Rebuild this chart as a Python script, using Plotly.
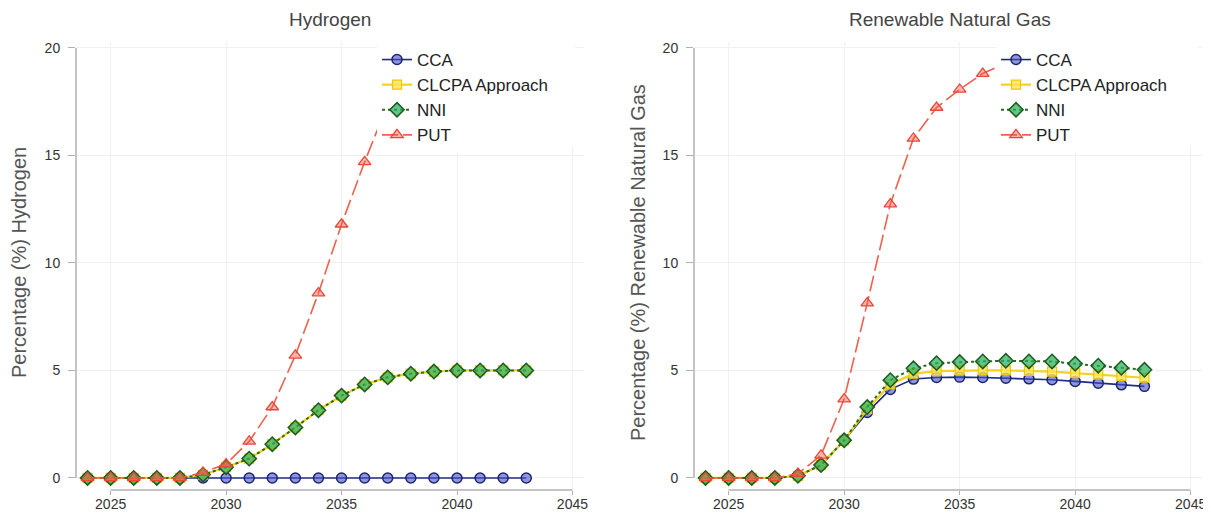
import plotly.graph_objects as go

years = [2024, 2025, 2026, 2027, 2028, 2029, 2030, 2031, 2032, 2033,
         2034, 2035, 2036, 2037, 2038, 2039, 2040, 2041, 2042, 2043]
series_names = ["CCA", "CLCPA Approach", "NNI", "PUT"]

# Hydrogen (%)
h_cca = [0, 0, 0, 0, 0, 0, 0, 0, 0, 0, 0, 0, 0, 0, 0, 0, 0, 0, 0, 0]
h_clcpa = [0, 0, 0, 0, 0, 0.15, 0.5, 0.9, 1.57, 2.35, 3.15, 3.83, 4.35, 4.68, 4.85, 4.95, 5.0, 5.0, 5.0, 5.0]
h_nni = [0, 0, 0, 0, 0, 0.15, 0.5, 0.9, 1.57, 2.35, 3.15, 3.83, 4.35, 4.68, 4.85, 4.95, 5.0, 5.0, 5.0, 5.0]
h_put = [0, 0, 0, 0, 0, 0.25, 0.65, 1.7, 3.3, 5.7, 8.6, 11.8, 14.7, 17.4, 19.6, 21.3, 22.6, 23.5, 24.1, 24.5]

# Renewable Natural Gas (%)
r_cca = [0, 0, 0, 0, 0.1, 0.6, 1.75, 3.05, 4.12, 4.6, 4.67, 4.69, 4.67, 4.64, 4.61, 4.57, 4.49, 4.41, 4.33, 4.26]
r_clcpa = [0, 0, 0, 0, 0.1, 0.6, 1.75, 3.2, 4.35, 4.85, 4.97, 5.0, 5.0, 5.0, 4.98, 4.95, 4.88, 4.81, 4.74, 4.66]
r_nni = [0, 0, 0, 0, 0.1, 0.6, 1.75, 3.3, 4.55, 5.1, 5.34, 5.39, 5.42, 5.45, 5.42, 5.42, 5.31, 5.22, 5.12, 5.03]
r_put = [0, 0, 0, 0, 0.2, 1.05, 3.67, 8.13, 12.74, 15.79, 17.23, 18.07, 18.81, 19.3, 19.6, 19.8, 19.9, 20.0, 20.0, 20.0]

x_ticks = [2025, 2030, 2035, 2040, 2045]
y_ticks = [0, 5, 10, 15, 20]

FONT = "Arial, Liberation Sans, sans-serif"
W, H = 1203, 506  # page body has an 8px margin


def px(v):
    return v / W


def py(v):
    return (H - v) / H


styles = {
    "CCA": dict(line=dict(color="#1f2a86", width=1.6, dash="solid"),
                marker=dict(symbol="circle", size=10, color="rgba(70,80,200,0.6)",
                            line=dict(color="#1c2670", width=1.5))),
    "CLCPA Approach": dict(line=dict(color="#f4d21f", width=2.2, dash="solid"),
                           marker=dict(symbol="square", size=9, color="rgba(255,228,90,0.8)",
                                       line=dict(color="#f0c800", width=1.2))),
    "NNI": dict(line=dict(color="#2b6a22", width=2, dash="dot"),
                marker=dict(symbol="diamond", size=11, color="rgba(40,175,90,0.72)",
                            line=dict(color="#1d5a1d", width=1.5))),
    "PUT": dict(line=dict(color="#f0604c", width=1.6, dash="16px,5px"),
                marker=dict(symbol="triangle-up", size=11, color="rgba(240,90,70,0.45)",
                            line=dict(color="#e8483a", width=1.3))),
}

fig = go.Figure()
panels = [
    ("x", "y", "legend", [h_cca, h_clcpa, h_nni, h_put]),
    ("x2", "y2", "legend2", [r_cca, r_clcpa, r_nni, r_put]),
]
for xa, ya, lg, vals in panels:
    for name, v in zip(series_names, vals):
        st = styles[name]
        fig.add_trace(go.Scatter(
            x=years, y=v, name=name, mode="lines+markers",
            line=st["line"], marker=st["marker"],
            xaxis=xa, yaxis=ya, legend=lg, cliponaxis=True,
        ))

x_range = [2023.5, 2045.5]
y_range = [-0.56, 20.3]
ydom = [py(482), py(33.5)]

axis_common_x = dict(range=x_range, tickvals=x_ticks, ticks="outside", ticklen=4,
                     tickcolor="#b0b0b0", showline=False, zeroline=False,
                     showgrid=True, gridcolor="#f0f0f0", gridwidth=1,
                     tickfont=dict(family=FONT, size=14, color="#333333"),
                     ticklabelstandoff=-3, fixedrange=True, automargin=False)
axis_common_y = dict(range=y_range, tickvals=y_ticks, ticks="outside", ticklen=7,
                     tickcolor="#b0b0b0", showline=False, zeroline=False,
                     showgrid=True, gridcolor="#f0f0f0", gridwidth=1,
                     tickfont=dict(family=FONT, size=14, color="#333333"),
                     ticklabelstandoff=5, fixedrange=True, automargin=False)

fig.update_layout(
    width=W, height=H,
    margin=dict(l=0, r=0, t=0, b=0, autoexpand=False),
    paper_bgcolor="white", plot_bgcolor="white",
    font=dict(family=FONT, color="#333333"),
    xaxis=dict(domain=[px(68), px(576)], anchor="y", **axis_common_x),
    yaxis=dict(domain=ydom, anchor="x", **axis_common_y),
    xaxis2=dict(domain=[px(686), px(1194.2)], anchor="y2", **axis_common_x),
    yaxis2=dict(domain=ydom, anchor="x2", **axis_common_y),
    legend=dict(x=px(369), y=py(34), xanchor="left", yanchor="top",
                bgcolor="white", borderwidth=0, itemwidth=30,
                font=dict(family=FONT, size=17, color="#222222")),
    legend2=dict(x=px(988), y=py(34), xanchor="left", yanchor="top",
                 bgcolor="white", borderwidth=0, itemwidth=30,
                 font=dict(family=FONT, size=17, color="#222222")),
    showlegend=True,
)

# axis lines spanning only the tick range (offset x axis)
for xa, ya in [("x", "y"), ("x2", "y2")]:
    fig.add_shape(type="line", xref=xa, yref=ya + " domain", x0=x_ticks[0], x1=x_ticks[-1],
                  y0=0, y1=0, line=dict(color="#b0b0b0", width=1.5), layer="above")
    fig.add_shape(type="line", xref=xa + " domain", yref=ya, x0=0, x1=0,
                  y0=y_ticks[0], y1=y_ticks[-1], line=dict(color="#b0b0b0", width=1.5), layer="above")

# white background behind legends (legend box covers the curves)
for x0, x1 in [(370, 567), (988, 1190)]:
    fig.add_shape(type="rect", xref="paper", yref="paper",
                  x0=px(x0), x1=px(x1), y0=py(138), y1=py(28),
                  fillcolor="white", line=dict(width=0), layer="above")

# titles
fig.add_annotation(text="Hydrogen", xref="paper", yref="paper", x=px(322), y=py(12),
                   showarrow=False, xanchor="center", yanchor="middle",
                   font=dict(family=FONT, size=19, color="#444444"))
fig.add_annotation(text="Renewable Natural Gas", xref="paper", yref="paper", x=px(942),
                   y=py(12), showarrow=False, xanchor="center", yanchor="middle",
                   font=dict(family=FONT, size=19, color="#444444"))
fig.add_annotation(text="Percentage (%) Hydrogen", xref="paper", yref="paper", x=px(11),
                   y=py(255), textangle=-90, showarrow=False,
                   xanchor="center", yanchor="middle",
                   font=dict(family=FONT, size=20, color="#555555"))
fig.add_annotation(text="Percentage (%) Renewable Natural Gas", xref="paper", yref="paper",
                   x=px(630), y=py(255), textangle=-90, showarrow=False,
                   xanchor="center", yanchor="middle",
                   font=dict(family=FONT, size=20, color="#555555"))

fig.write_html("out.html")
